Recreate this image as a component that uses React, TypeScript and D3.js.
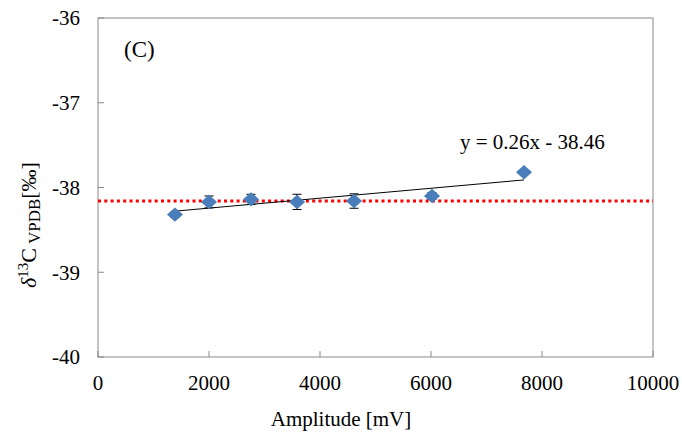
import React from "react";
import * as d3 from "d3";

const amplitudes = [1387, 2000, 2757, 3586, 4613, 6018, 7676];
const deltaValues = [-38.32, -38.17, -38.14, -38.17, -38.16, -38.1, -37.82];
const errors = [0.03, 0.07, 0.06, 0.09, 0.085, 0.04, 0.02];
const meanLine = -38.16;
const xTicks = [0, 2000, 4000, 6000, 8000, 10000];
const yTicks = [-36, -37, -38, -39, -40];
const equationLabel = "y = 0.26x - 38.46";
const panelLabel = "(C)";

export default function App() {
  const W = 682, H = 434;
  const left = 98, right = 653, top = 18, bottom = 357;
  const x = d3.scaleLinear().domain([0, 10000]).range([left, right]);
  const y = d3.scaleLinear().domain([-40, -36]).range([bottom, top]);

  const mx = d3.mean(amplitudes)!;
  const my = d3.mean(deltaValues)!;
  let sxy = 0, sxx = 0;
  amplitudes.forEach((a, i) => {
    sxy += (a - mx) * (deltaValues[i] - my);
    sxx += (a - mx) ** 2;
  });
  const slope = sxy / sxx;
  const icpt = my - slope * mx;
  const x0 = d3.min(amplitudes)!, x1 = d3.max(amplitudes)!;

  const diamond = d3.symbol().type(d3.symbolDiamond2).size(165)()!;
  const font = "Liberation Serif, DejaVu Serif, serif";
  const ts = { fontFamily: font };
  const axisColor = "#898989";

  return (
    <svg width={W} height={H} style={{ position: "absolute", left: 0, top: 0, background: "#fff" }}>
      <rect x={left} y={top} width={right - left} height={bottom - top} fill="none" stroke={axisColor} strokeWidth={1} />
      {yTicks.map((t) => (
        <g key={"y" + t}>
          <line x1={left} x2={left + 6} y1={y(t)} y2={y(t)} stroke={axisColor} />
          <text x={left - 18} y={y(t)} dy="0.35em" textAnchor="end" style={ts} fontSize={21} fill="#000">
            {t}
          </text>
        </g>
      ))}
      {xTicks.map((t) => (
        <g key={"x" + t}>
          <line x1={x(t)} x2={x(t)} y1={bottom} y2={bottom - 6} stroke={axisColor} />
          <text x={x(t)} y={bottom + 33} textAnchor="middle" style={ts} fontSize={21} fill="#000">
            {t}
          </text>
        </g>
      ))}
      <line x1={left} x2={right} y1={y(meanLine)} y2={y(meanLine)} stroke="#ff0000" strokeWidth={3} strokeDasharray="3 3.3" />
      <line x1={x(x0)} x2={x(x1)} y1={y(icpt + slope * x0)} y2={y(icpt + slope * x1)} stroke="#000" strokeWidth={1} />
      {amplitudes.map((a, i) => {
        const cx = x(a);
        const yt = y(deltaValues[i] + errors[i]);
        const yb = y(deltaValues[i] - errors[i]);
        return (
          <g key={"e" + i} stroke="#000" strokeWidth={1}>
            <line x1={cx} x2={cx} y1={yt} y2={yb} />
            <line x1={cx - 4.5} x2={cx + 4.5} y1={yt} y2={yt} />
            <line x1={cx - 4.5} x2={cx + 4.5} y1={yb} y2={yb} />
          </g>
        );
      })}
      {amplitudes.map((a, i) => (
        <path key={"p" + i} d={diamond} transform={`translate(${x(a)},${y(deltaValues[i])}) scale(1,0.9)`} fill="#4a7ebb" />
      ))}
      <text x={124} y={57} style={ts} fontSize={23} fill="#000">{panelLabel}</text>
      <text x={460} y={149} style={ts} fontSize={21} fill="#000">{equationLabel}</text>
      <text x={341} y={426} textAnchor="middle" style={ts} fontSize={21} fill="#000">Amplitude [mV]</text>
      <text transform="translate(36,225) rotate(-90)" textAnchor="middle" style={ts} fontSize={22} fill="#000">
        <tspan fontStyle="italic">δ</tspan>
        <tspan fontSize={15} dy={-8}>13</tspan>
        <tspan dy={8}>C</tspan>
        <tspan fontSize={17} dy={4}> VPDB</tspan>
        <tspan dy={-4}>[‰]</tspan>
      </text>
    </svg>
  );
}
